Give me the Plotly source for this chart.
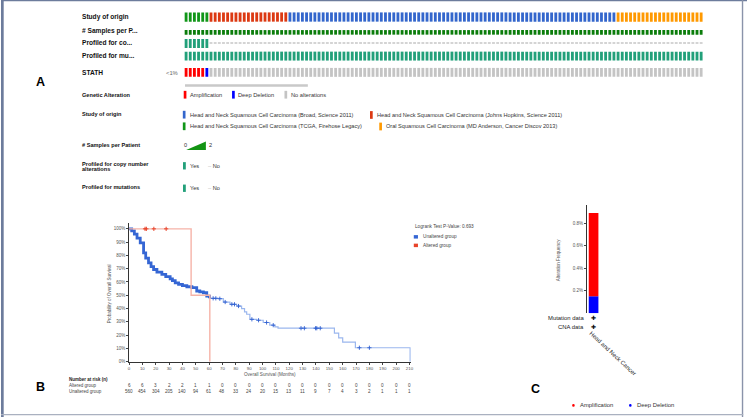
import numpy as np
import plotly.graph_objects as go

W, H = 750, 420
FONT = "Liberation Sans, Arial, sans-serif"

# ---------------- Data ----------------
# Panel A: oncoprint (visible columns)
study_names = ["TCGA", "Johns Hopkins", "Broad", "MD Anderson"]
study_column_counts = [6, 19, 79, 21]
study_colors = ["#109618", "#dc3912", "#3366cc", "#ff9900"]
profiled_cna_columns = 6
stath_alteration_types = ["Amplification", "Deep Deletion", "No alterations"]
stath_alteration_counts = [5, 1, 119]
stath_alteration_colors = ["#ff0000", "#0000ff", "#c4c4c4"]
row_labels = ["Study of origin", "# Samples per P...", "Profiled for co...", "Profiled for mu...", "STATH"]
study_legend = [
    "Head and Neck Squamous Cell Carcinoma (Broad, Science 2011)",
    "Head and Neck Squamous Cell Carcinoma (Johns Hopkins, Science 2011)",
    "Head and Neck Squamous Cell Carcinoma (TCGA, Firehose Legacy)",
    "Oral Squamous Cell Carcinoma (MD Anderson, Cancer Discov 2013)",
]

# Panel B: Kaplan-Meier
km_ticks = list(range(0, 211, 10))
altered_at_risk = [6, 6, 3, 2, 2, 1, 1, 0, 0, 0, 0, 0, 0, 0, 0, 0, 0, 0, 0, 0, 0, 0]
unaltered_at_risk = [560, 454, 304, 205, 140, 94, 61, 48, 33, 24, 20, 15, 13, 11, 9, 7, 4, 3, 2, 1, 1, 1]
altered_time = [0, 46.5, 60.5]
altered_surv = [1.0, 0.5, 0.0]
altered_censor = [12, 13, 18.6, 27.8]
unaltered_time = [0, 2, 4, 6, 8.4, 10.9, 12.5, 14.6, 16.5, 18.4, 20.9, 24.6, 27.5, 30.8, 32.5, 34.6,
                  37.1, 40, 43.3, 47.1, 50.7, 53, 55.7, 58.2, 60.2, 66.9, 70.6, 75.6, 80.6, 84.3, 86.5,
                  88.1, 90.5, 95.5, 100.5, 105.4, 109.2, 111.6, 153.8, 157, 160, 169.5, 210.5]
unaltered_surv = [1.0, 0.985, 0.96, 0.93, 0.894, 0.819, 0.78, 0.744, 0.715, 0.694, 0.674, 0.657, 0.64,
                  0.624, 0.61, 0.594, 0.582, 0.572, 0.564, 0.557, 0.532, 0.525, 0.519, 0.494, 0.477,
                  0.474, 0.449, 0.432, 0.419, 0.399, 0.375, 0.357, 0.319, 0.312, 0.295, 0.275, 0.262,
                  0.252, 0.215, 0.18, 0.147, 0.105, 0.0]
unaltered_censor = [63, 65, 68, 72, 77, 79, 82, 92, 97, 103, 108, 128.8, 131.3, 139.7, 140.6, 143.2,
                    172.5, 180]
p_value = "0.693"

# Panel C: alteration frequency
cancer_types = ["Head and Neck Cancer"]
amplification_pct = [0.74]
deep_deletion_pct = [0.15]

# ---------------- Figure ----------------
fig = go.Figure()


def px(x):
    return x / W


def py(y):
    return 1 - y / H


def add_text(x, y, s, size, color="#222", bold=False, xanchor="left", angle=0, yanchor="middle"):
    fig.add_annotation(x=px(x), y=py(y), xref="paper", yref="paper",
                       text=f"<b>{s}</b>" if bold else s, showarrow=False,
                       xanchor=xanchor, yanchor=yanchor, textangle=angle, borderpad=0,
                       font=dict(size=size, color=color, family=FONT))


def add_rect(x0, y0, x1, y1, color):
    fig.add_shape(type="rect", xref="paper", yref="paper", x0=px(x0), x1=px(x1),
                  y0=py(y1), y1=py(y0), fillcolor=color, line=dict(width=0), layer="above")


# ---- Panel A oncoprint tracks ----
n_cols = sum(study_column_counts)
cols = np.arange(n_cols)
col_colors = np.repeat(study_colors, study_column_counts)
CW = 0.68


def track(xs, top, height, colors):
    fig.add_bar(x=xs, y=[height] * len(xs), base=[top] * len(xs), width=CW,
                marker=dict(color=colors, line=dict(width=0)), xaxis="x", yaxis="y",
                hoverinfo="skip", showlegend=False)


track(cols, 12.5, 9.3, list(col_colors))
track(cols, 30.3, 4.6, ["#0b7d0b"] * n_cols)
track(cols[:profiled_cna_columns], 39.3, 9.0, ["#22a07a"] * profiled_cna_columns)
track(cols[profiled_cna_columns:], 43.2, 0.8, ["#d4d4d4"] * (n_cols - profiled_cna_columns))
track(cols, 52.0, 9.0, ["#22a07a"] * n_cols)
track(cols, 68.4, 9.0, list(np.repeat(stath_alteration_colors, stath_alteration_counts)))

row_y = [16.8, 30.8, 42.8, 56.2, 73.2]
for lab, yy in zip(row_labels, row_y):
    add_text(80, yy, lab, 6.6, color="#111", bold=True)
add_text(179, 73.3, "&lt;1%", 5.8, color="#666", xanchor="right")

# scrollbar
fig.add_shape(type="rect", xref="paper", yref="paper", x0=px(185), x1=px(308.5), y0=py(87.4),
              y1=py(84.8), fillcolor="#c9c9c9", line=dict(width=0))

# Genetic alteration legend
add_text(80, 95.2, "Genetic Alteration", 5.6, color="#111", bold=True)
leg_x = [183.7, 232.3, 285.0]
for lx, lab, c in zip(leg_x, stath_alteration_types, stath_alteration_colors):
    add_rect(lx, 91.5, lx + 2.7, 99.3, c)
    add_text(lx + 5.3, 95.6, lab, 5.7, color="#333")

# Study of origin legend
add_text(80, 114.5, "Study of origin", 5.6, color="#111", bold=True)
study_leg_pos = [(182.8, 115.5, "#3366cc"), (371.0, 115.8, "#dc3912"),
                 (182.8, 127.2, "#109618"), (380.3, 127.4, "#ff9900")]
for (lx, ly, c), lab in zip(study_leg_pos, study_legend):
    add_rect(lx, ly - 3.9, lx + 2.7, ly + 3.9, c)
    add_text(lx + 6.0, ly, lab, 5.6, color="#333")

# Samples per patient legend
add_text(80, 146.2, "# Samples per Patient", 5.6, color="#111", bold=True)
add_text(183.0, 146.5, "0", 5.6, color="#333")
fig.add_shape(type="path", xref="paper", yref="paper",
              path=f"M {px(186.2)},{py(151)} L {px(206)},{py(142.6)} L {px(206)},{py(151)} Z",
              fillcolor="#139413", line=dict(width=0))
add_text(208.0, 146.5, "2", 5.6, color="#333")

# Profiled legends
add_text(80, 165.3, "Profiled for copy number", 5.6, color="#111", bold=True)
add_text(80, 170.3, "alterations", 5.6, color="#111", bold=True)
add_text(80, 188.5, "Profiled for mutations", 5.6, color="#111", bold=True)
for yy in (167.0, 189.6):
    add_rect(183.0, yy - 3.7, 185.8, yy + 3.7, "#22a07a")
    add_text(189.0, yy, "Yes", 5.6, color="#333")
    add_text(207.5, yy, "<span style='color:#bbb'>–</span> No", 5.6, color="#333")

add_text(40, 83, "A", 12.5, color="#000", bold=True, xanchor="center")

# ---- Panel B: Kaplan-Meier ----
ut = np.array(unaltered_time)
us = np.array(unaltered_surv)
split = int(np.searchsorted(ut, 61))
fig.add_scatter(x=ut[split - 1:], y=us[split - 1:], mode="lines", line=dict(shape="hv", color="#9bb7ee", width=1.2),
                xaxis="x2", yaxis="y2", hoverinfo="skip", showlegend=False)
fig.add_scatter(x=ut[:split], y=us[:split], mode="lines", line=dict(shape="hv", color="#3566d4", width=2.8),
                xaxis="x2", yaxis="y2", hoverinfo="skip", showlegend=False)
uc = np.array(unaltered_censor)
uc_s = us[np.searchsorted(ut, uc, side="right") - 1]
fig.add_scatter(x=uc, y=uc_s, mode="markers",
                marker=dict(symbol="cross-thin", size=3, line=dict(color="#2f5fd0", width=0.9)),
                xaxis="x2", yaxis="y2", hoverinfo="skip", showlegend=False)

fig.add_scatter(x=altered_time, y=altered_surv, mode="lines", line=dict(shape="hv", color="#f6b3a8", width=1.4),
                xaxis="x2", yaxis="y2", hoverinfo="skip", showlegend=False)
at = np.array(altered_time)
as_ = np.array(altered_surv)
ac = np.array(altered_censor)
ac_s = as_[np.searchsorted(at, ac, side="right") - 1]
fig.add_scatter(x=ac, y=ac_s, mode="markers",
                marker=dict(symbol="cross-thin", size=3, line=dict(color="#e8432a", width=1.0)),
                xaxis="x2", yaxis="y2", hoverinfo="skip", showlegend=False)

add_text(109, 296, "Probability of Overall Survival", 4.5, color="#555", xanchor="center", angle=-90)
add_text(270, 376.7, "Overall Survival (Months)", 4.6, color="#555", xanchor="center")
add_text(415.5, 228.5, f"Logrank Test P-Value: {p_value}", 4.7, color="#444")
add_rect(415.0, 236.8, 419.2, 240.3, "#3566d4")
add_text(423.3, 238.6, "Unaltered group", 4.7, color="#444")
add_rect(415.0, 245.4, 419.2, 248.9, "#e8432a")
add_text(423.3, 247.2, "Altered group", 4.7, color="#444")

add_text(67.2, 382.7, "Number at risk (n)", 4.5, color="#222", bold=True)
add_text(67.2, 388.5, "Altered group", 4.5, color="#444")
add_text(67.2, 394.3, "Unaltered group", 4.5, color="#444")
for t, a, u in zip(km_ticks, altered_at_risk, unaltered_at_risk):
    fig.add_annotation(x=t, y=py(388.6), xref="x2", yref="paper", text=str(a), showarrow=False,
                       xanchor="center", yanchor="middle", borderpad=0,
                       font=dict(size=4.6, color="#444", family=FONT))
    fig.add_annotation(x=t, y=py(394.4), xref="x2", yref="paper", text=str(u), showarrow=False,
                       xanchor="center", yanchor="middle", borderpad=0,
                       font=dict(size=4.6, color="#444", family=FONT))

add_text(40, 390, "B", 12.5, color="#000", bold=True, xanchor="center")

# ---- Panel C: alteration frequency ----
fig.add_bar(x=cancer_types, y=deep_deletion_pct, width=0.72, marker=dict(color="#0000ff", line=dict(width=0)),
            xaxis="x3", yaxis="y3", hoverinfo="skip", showlegend=False)
fig.add_bar(x=cancer_types, y=amplification_pct, base=deep_deletion_pct, width=0.72,
            marker=dict(color="#ff0000", line=dict(width=0)),
            xaxis="x3", yaxis="y3", hoverinfo="skip", showlegend=False)
add_text(560, 262, "Alteration Frequency", 4.5, color="#555", xanchor="center", angle=-90)
add_text(587.5, 320.7, "Mutation data", 5.9, color="#222", xanchor="right")
add_text(587.5, 329.8, "CNA data", 5.9, color="#222", xanchor="right")
add_text(596, 320.7, "✚", 5.5, color="#111", xanchor="center")
add_text(596, 329.8, "✚", 5.5, color="#111", xanchor="center")
add_text(614.5, 356, cancer_types[0], 5.9, color="#222", xanchor="center", angle=43)
for cx, lab, c in [(575.5, "Amplification", "#ff0000"), (632.7, "Deep Deletion", "#0000ff")]:
    fig.add_shape(type="circle", xref="paper", yref="paper", x0=px(cx - 1.3), x1=px(cx + 1.3),
                  y0=py(409.6), y1=py(407.0), fillcolor=c, line=dict(width=0))
    add_text(cx + 5.5, 408.3, lab, 5.9, color="#333")
add_text(537.5, 392, "C", 12.5, color="#000", bold=True, xanchor="center")

# ---- frame ----
add_rect(0, 0, 2.7, 420, "#6d7c9c")
add_rect(0, 0, 750, 1.2, "#6d7c9c")
add_rect(744.8, 0, 746.2, 420, "#8a93aa")
add_rect(0, 417.0, 746.2, 418.2, "#aab1c0")

pct_ticks = [i / 10 for i in range(11)]
fig.update_layout(
    width=W, height=H, margin=dict(l=0, r=0, t=0, b=0),
    paper_bgcolor="white", plot_bgcolor="rgba(0,0,0,0)",
    barmode="overlay", showlegend=False,
    font=dict(family=FONT),
    xaxis=dict(domain=[px(184), px(706)], range=[-0.5, n_cols - 0.5], visible=False, fixedrange=True),
    yaxis=dict(domain=[0, 1], range=[H, 0], visible=False, fixedrange=True),
    xaxis2=dict(domain=[px(128.7), px(412)], range=[0, 211], anchor="y2", tickvals=km_ticks,
                ticks="outside", ticklen=2, tickwidth=0.7, tickcolor="#444", showline=True,
                linecolor="#333", linewidth=0.8, showgrid=False, zeroline=False,
                tickfont=dict(size=4.4, color="#555", family=FONT)),
    yaxis2=dict(domain=[py(364.3), py(225)], range=[0, 1.041], anchor="x2", tickvals=pct_ticks,
                ticktext=[f"{int(round(v * 100))}%" for v in pct_ticks], ticks="outside", ticklen=2,
                tickwidth=0.7, tickcolor="#444", showline=True, linecolor="#333", linewidth=0.8,
                showgrid=False, zeroline=False, tickfont=dict(size=4.5, color="#555", family=FONT)),
    xaxis3=dict(domain=[px(589), px(602.5)], anchor="y3", type="category", range=[-0.5, 0.5],
                showticklabels=False, showline=False, showgrid=False, zeroline=False, ticks=""),
    yaxis3=dict(domain=[py(315.4), py(206.7)], range=[0, 0.958], anchor="x3",
                tickvals=[0.2, 0.4, 0.6, 0.8], ticktext=["0.2%", "0.4%", "0.6%", "0.8%"],
                ticks="outside", ticklen=2, tickwidth=0.7, tickcolor="#444", showline=True,
                linecolor="#333", linewidth=0.8, showgrid=False, zeroline=False,
                tickfont=dict(size=4.5, color="#555", family=FONT)),
)

fig.write_html("out.html")
